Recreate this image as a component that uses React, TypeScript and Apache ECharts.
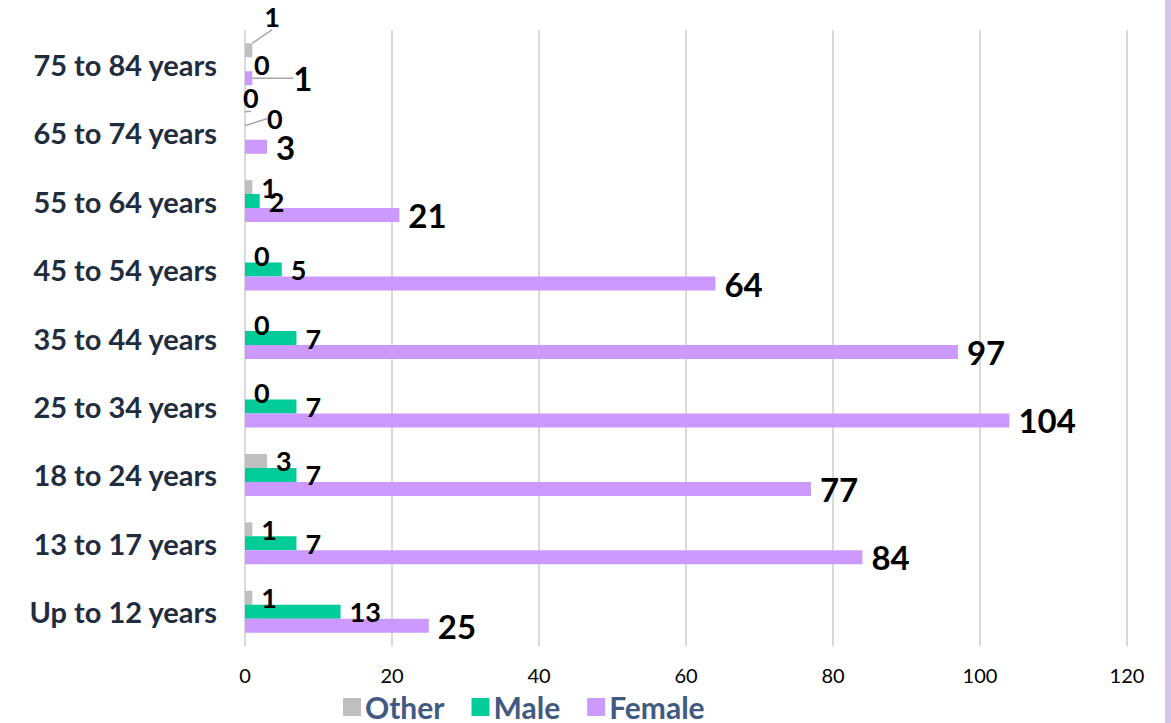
import React, { useEffect, useRef } from "react";
import * as echarts from "echarts";

const categories = [
  "Up to 12 years",
  "13 to 17 years",
  "18 to 24 years",
  "25 to 34 years",
  "35 to 44 years",
  "45 to 54 years",
  "55 to 64 years",
  "65 to 74 years",
  "75 to 84 years",
];
const otherValues = [1, 1, 3, 0, 0, 0, 1, 0, 1];
const maleValues = [13, 7, 7, 7, 7, 5, 2, 0, 0];
const femaleValues = [25, 84, 77, 104, 97, 64, 21, 3, 1];
const seriesNames = ["Other", "Male", "Female"];
const xMin = 0;
const xMax = 120;
const xInterval = 20;

// manual label nudges (like moved data labels in the original)
const nudges: Record<string, Record<number, [number, number]>> = {
  Other: { 8: [3, -34], 7: [-11, -21] },
  Male: { 7: [13, -14] },
  Female: { 8: [32, 0] },
};

const FONT = "Lato, 'Noto Sans', sans-serif";

export default function App() {
  const ref = useRef<HTMLDivElement>(null);
  useEffect(() => {
    if (!ref.current) return;
    const chart = echarts.init(ref.current, null, { renderer: "svg" });
    const colors = ["#BFBFBF", "#00CC99", "#CC99FF"];
    const valueSets = [otherValues, maleValues, femaleValues];
    const labelSizes = [27, 27, 33];
    const labelOffsets = [3, 5, 3];
    const series = seriesNames.map((name, si) => ({
      name,
      type: "bar",
      barWidth: 14,
      barGap: "0%",
      itemStyle: { color: colors[si] },
      label: {
        show: true,
        position: "right",
        distance: 9,
        offset: [0, labelOffsets[si]],
        color: "#000",
        fontFamily: FONT,
        fontWeight: "bold",
        fontSize: labelSizes[si],
      },
      labelLayout: (p: any) => {
        const n = nudges[name][p.dataIndex];
        return n ? { dx: n[0], dy: n[1] } : {};
      },
      data: valueSets[si].map((v, i) =>
        nudges[name][i]
          ? { value: v, labelLine: { show: true, lineStyle: { color: "#A6A6A6", width: 1.5 } } }
          : { value: v }
      ),
    }));
    chart.setOption({
      animation: false,
      color: colors,
      grid: { left: 245, right: 44, top: 30, bottom: 77, containLabel: false },
      legend: {
        data: seriesNames,
        left: 343,
        top: 692,
        padding: 0,
        icon: "rect",
        itemWidth: 18,
        itemHeight: 18,
        itemGap: 27,
        textStyle: { fontFamily: FONT, fontWeight: "bold", fontSize: 30, color: "#415A82", padding: [0, 0, 0, -1] },
      },
      xAxis: {
        type: "value",
        min: xMin,
        max: xMax,
        interval: xInterval,
        axisLine: { show: false },
        axisTick: { show: false },
        axisLabel: { fontFamily: FONT, fontSize: 20, color: "#000", margin: 19 },
        splitLine: { show: true, lineStyle: { color: "#D9D9D9", width: 2 } },
      },
      yAxis: {
        type: "category",
        data: categories,
        axisLine: { show: false },
        axisTick: { show: false },
        axisLabel: { fontFamily: FONT, fontWeight: "bold", fontSize: 29, color: "#1F2D3F", margin: 28 },
      },
      graphic: [
        {
          type: "rect",
          x: 1165,
          y: 0,
          shape: { x: 0, y: 0, width: 6, height: 723 },
          style: { fill: "#D5C5E6" },
        },
      ],
      series,
    });
    return () => chart.dispose();
  }, []);
  return (
    <div
      ref={ref}
      style={{ position: "fixed", left: 0, top: 0, width: 1171, height: 723, background: "#fff" }}
    />
  );
}
